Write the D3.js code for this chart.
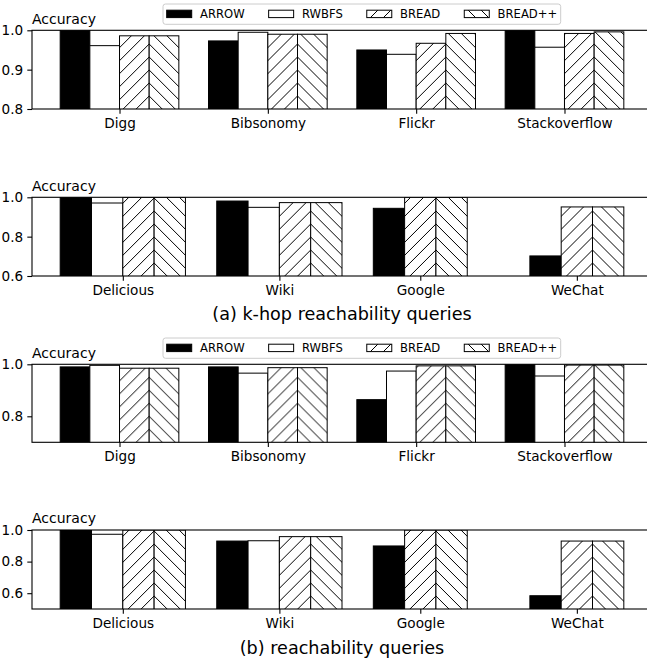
<!DOCTYPE html>
<html>
<head>
<meta charset="utf-8">
<script src="https://cdn.jsdelivr.net/npm/d3@7"></script>
<style>
    body { margin: 0; background: #fff; }
    text { font-family: "DejaVu Sans", sans-serif; fill: #000; }
</style>
</head>
<body>
<svg id="chart" width="647" height="662"></svg>
<script>
const methods = ["ARROW", "RWBFS", "BREAD", "BREAD++"];
const graphsTop = ["Digg", "Bibsonomy", "Flickr", "Stackoverflow"];
const graphsBottom = ["Delicious", "Wiki", "Google", "WeChat"];

// (a) k-hop reachability queries
const khopTopArrow = [1.0, 0.973, 0.950, 1.0];
const khopTopRwbfs = [0.961, 0.995, 0.939, 0.957];
const khopTopBread = [0.986, 0.990, 0.967, 0.992];
const khopTopBreadPP = [0.986, 0.990, 0.992, 0.996];
const khopBottomArrow = [1.0, 0.981, 0.944, 0.702];
const khopBottomRwbfs = [0.971, 0.949, null, null];
const khopBottomBread = [1.0, 0.973, 1.0, 0.951];
const khopBottomBreadPP = [1.0, 0.973, 1.0, 0.951];

// (b) reachability queries
const reachTopArrow = [0.990, 0.990, 0.864, 1.0];
const reachTopRwbfs = [0.996, 0.966, 0.974, 0.955];
const reachTopBread = [0.985, 0.987, 0.994, 0.997];
const reachTopBreadPP = [0.985, 0.987, 0.994, 0.997];
const reachBottomArrow = [1.0, 0.930, 0.899, 0.584];
const reachBottomRwbfs = [0.973, 0.932, null, null];
const reachBottomBread = [1.0, 0.958, 1.0, 0.930];
const reachBottomBreadPP = [1.0, 0.958, 1.0, 0.930];

const yTicksA = [0.8, 0.9, 1.0];
const yTicksB = [0.6, 0.8, 1.0];
const yTicksC = [0.8, 1.0];
const yTicksD = [0.6, 0.8, 1.0];

const panels = [
    { graphs: graphsTop, series: [khopTopArrow, khopTopRwbfs, khopTopBread, khopTopBreadPP],
      top: 30.3, bottom: 109, domain: [0.8, 1.0], ticks: yTicksA, legend: true },
    { graphs: graphsBottom, series: [khopBottomArrow, khopBottomRwbfs, khopBottomBread, khopBottomBreadPP],
      top: 197.3, bottom: 276, domain: [0.6, 1.0], ticks: yTicksB,
      caption: "(a) k-hop reachability queries", captionY: 320 },
    { graphs: graphsTop, series: [reachTopArrow, reachTopRwbfs, reachTopBread, reachTopBreadPP],
      top: 364.3, bottom: 442.3, domain: [0.7, 1.0], ticks: yTicksC, legend: true },
    { graphs: graphsBottom, series: [reachBottomArrow, reachBottomRwbfs, reachBottomBread, reachBottomBreadPP],
      top: 530, bottom: 609, domain: [0.5, 1.0], ticks: yTicksD,
      caption: "(b) reachability queries", captionY: 654 },
];

const left = 32, right = 652;
const barW = 0.2;
const hatchStep = 13;

const svg = d3.select("#chart");
svg.append("rect").attr("width", 647).attr("height", 662).attr("fill", "#fff");
const defs = svg.append("defs");

let patternId = 0;
function hatchPattern(dir, x0, y0) {
    const id = "hatch" + (patternId++);
    const s = hatchStep;
    const p = defs.append("pattern")
        .attr("id", id)
        .attr("patternUnits", "userSpaceOnUse")
        .attr("x", x0).attr("y", y0)
        .attr("width", s).attr("height", s);
    p.append("rect").attr("width", s).attr("height", s).attr("fill", "#fff");
    const segs = dir === "/"
        ? [[0, s, s, 0], [-2, 2, 2, -2], [s - 2, s + 2, s + 2, s - 2]]
        : [[0, 0, s, s], [-2, s - 2, 2, s + 2], [s - 2, -2, s + 2, 2]];
    segs.forEach(d => p.append("line")
        .attr("x1", d[0]).attr("y1", d[1]).attr("x2", d[2]).attr("y2", d[3])
        .attr("stroke", "#000").attr("stroke-width", 1));
    return "url(#" + id + ")";
}

function layoutBars(panel) {
    const bars = [], centers = [];
    panel.graphs.forEach((g, i) => {
        let pos = i - 2 * barW;
        const start = pos;
        methods.forEach((m, k) => {
            const v = panel.series[k][i];
            if (v == null) return;
            bars.push({ method: m, k: k, value: v, x0: pos, x1: pos + barW });
            pos += barW;
        });
        centers.push((start + pos) / 2);
    });
    return { bars, centers };
}

function drawLegend(y0) {
    const g = svg.append("g").attr("transform", `translate(163,${y0})`);
    const box = g.append("rect")
        .attr("x", 0).attr("y", 0).attr("height", 20.3).attr("rx", 2.5)
        .attr("fill", "#fff").attr("fill-opacity", 0.8)
        .attr("stroke", "#cccccc").attr("stroke-width", 1);
    let x = 3.7;
    methods.forEach((m, k) => {
        const fill = k === 0 ? "#000" : k === 1 ? "#fff"
            : hatchPattern(k === 2 ? "/" : "\\", 0, 0);
        g.append("rect")
            .attr("x", x).attr("y", 6.2).attr("width", 25).attr("height", 7.4)
            .attr("fill", fill).attr("stroke", "#000").attr("stroke-width", 1);
        const t = g.append("text")
            .attr("x", x + 33.3).attr("y", 14.3)
            .style("font-size", "11.6px")
            .text(m);
        x += 33.3 + t.node().getComputedTextLength() + 24;
    });
    box.attr("width", x - 24 + 3.5);
}

panels.forEach((panel, pi) => {
    const { bars, centers } = layoutBars(panel);
    const maxEdge = d3.max(bars, d => d.x1);
    const minEdge = d3.min(bars, d => d.x0);
    const pad = (maxEdge - minEdge) * 0.05;

    const x = d3.scaleLinear().domain([minEdge - pad, maxEdge + pad]).range([left, right]);
    const y = d3.scaleLinear().domain(panel.domain).range([panel.bottom, panel.top]);

    defs.append("clipPath").attr("id", "clip" + pi)
        .append("rect")
        .attr("x", left).attr("y", panel.top)
        .attr("width", right - left).attr("height", panel.bottom - panel.top);

    const g = svg.append("g").attr("clip-path", `url(#clip${pi})`);
    g.selectAll("rect.bar")
        .data(bars)
        .enter().append("rect")
        .attr("class", "bar")
        .attr("x", d => x(d.x0))
        .attr("y", d => y(d.value))
        .attr("width", d => x(d.x1) - x(d.x0))
        .attr("height", d => panel.bottom - y(d.value) + 2)
        .attr("fill", d => {
            if (d.k === 0) return "#000";
            if (d.k === 1) return "#fff";
            // anchor the hatch on the BREAD / BREAD++ shared edge
            const edge = d.k === 2 ? x(d.x1) : x(d.x0);
            return hatchPattern(d.k === 2 ? "/" : "\\", edge, panel.bottom);
        })
        .attr("stroke", "#000")
        .attr("stroke-width", 1);

    // spines
    svg.append("rect")
        .attr("x", left).attr("y", panel.top)
        .attr("width", right - left).attr("height", panel.bottom - panel.top)
        .attr("fill", "none").attr("stroke", "#000").attr("stroke-width", 1.1);

    const yAxis = svg.append("g")
        .attr("transform", `translate(${left},0)`)
        .call(d3.axisLeft(y).tickValues(panel.ticks).tickSize(4.7).tickPadding(4.2)
            .tickFormat(d3.format(".1f")));
    const xAxis = svg.append("g")
        .attr("transform", `translate(0,${panel.bottom})`)
        .call(d3.axisBottom(x).tickValues(centers).tickSize(4.7).tickPadding(4.7)
            .tickFormat((d, i) => panel.graphs[i]));

    [yAxis, xAxis].forEach(a => {
        a.select(".domain").remove();
        a.attr("font-family", null).attr("font-size", null);
        a.selectAll("line").attr("stroke", "#000").attr("stroke-width", 1.1);
        a.selectAll("text").style("font-size", "13.6px").attr("fill", "#000");
    });

    svg.append("text")
        .attr("x", left).attr("y", panel.top - 6.8)
        .style("font-size", "14px")
        .text("Accuracy");

    if (panel.legend) drawLegend(panel.top - 26.3);

    if (panel.caption) {
        svg.append("text")
            .attr("x", (left + right) / 2).attr("y", panel.captionY)
            .attr("text-anchor", "middle")
            .style("font-size", "17.6px")
            .text(panel.caption);
    }
});
</script>
</body>
</html>
